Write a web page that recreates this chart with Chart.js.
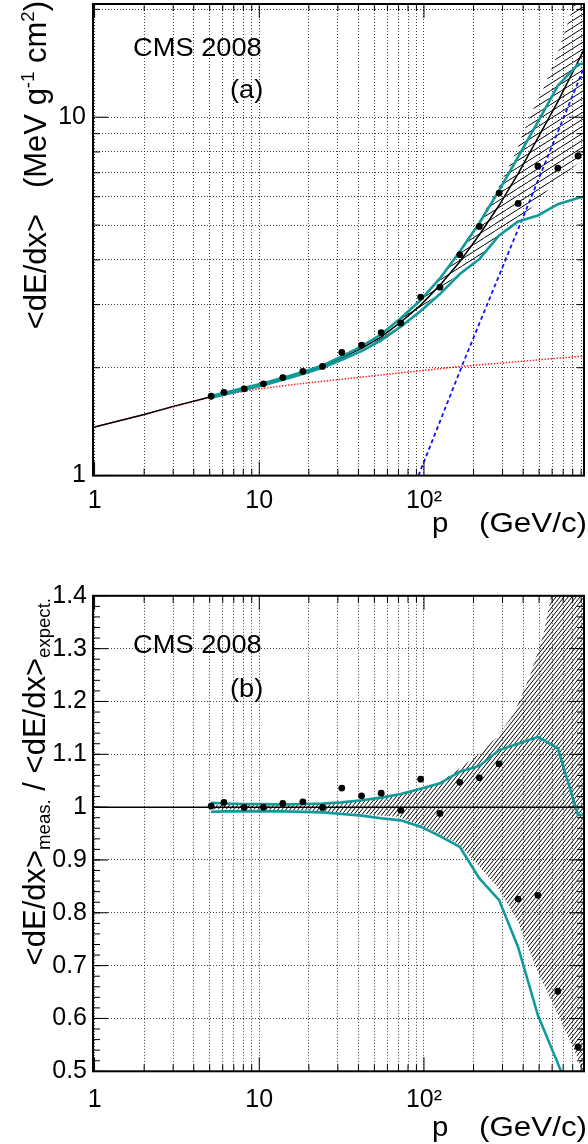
<!DOCTYPE html>
<html>
<head>
<meta charset="utf-8">
<title>CMS 2008 dE/dx</title>
<script src="https://cdn.jsdelivr.net/npm/chart.js@4.4.0/dist/chart.umd.min.js"></script>
<style>
  html, body { margin: 0; padding: 0; background: #fff; }
  #wrap { position: relative; width: 588px; height: 1144px; overflow: hidden; }
  canvas { position: absolute; left: 0; }
  #dedx { top: 0; }
  #ratio { top: 572px; }
</style>
</head>
<body>
<div id="wrap">
  <canvas id="dedx" width="588" height="572"></canvas>
  <canvas id="ratio" width="588" height="572"></canvas>
</div>
<script>
'use strict';

//momentum bin centres (GeV/c)
var BIN_P = [5.1, 6.1, 8.1, 10.6, 13.9, 18.4, 24.2, 31.7, 41.8, 55, 72.3, 95.5, 125, 165, 217, 286, 373, 492, 650, 862];
//measured <dE/dx> (MeV g-1 cm2)
var DEDX_MEAS = [1.665, 1.708, 1.746, 1.803, 1.877, 1.954, 2.017, 2.206, 2.312, 2.506, 2.667, 3.148, 3.356, 4.136, 4.955, 6.143, 5.748, 7.300, 7.207, 7.796];
//measured / expected
var RATIO_MEAS = [1.002, 1.009, 0.9994, 1.0, 1.007, 1.010, 0.9994, 1.036, 1.0214, 1.0265, 0.9943, 1.053, 0.988, 1.047, 1.0555, 1.082, 0.826, 0.833, 0.6515, 0.546];

//expected curve (black)
var EXP_P = [1, 2, 3, 5.1, 6.1, 8.1, 10.6, 13.9, 18.4, 24.2, 31.7, 41.8, 55, 72.3, 95.5, 125, 165, 217, 286, 373, 492, 650, 862, 940];
var EXP_DEDX = [1.367, 1.48, 1.56, 1.66, 1.692, 1.746, 1.80, 1.864, 1.935, 2.016, 2.13, 2.265, 2.44, 2.68, 2.99, 3.40, 3.95, 4.70, 5.68, 6.96, 8.76, 11.06, 14.3, 15.5];

//teal curves (upper / lower)
var TEAL_P = [5.1, 6.1, 8.1, 10.6, 13.9, 18.4, 24.2, 31.7, 41.8, 55, 72.3, 95.5, 125, 165, 217, 286, 373, 492, 650, 862, 940];
var TEAL_HI_DEDX = [1.67, 1.70, 1.757, 1.81, 1.875, 1.947, 2.03, 2.15, 2.295, 2.48, 2.75, 3.09, 3.55, 4.22, 5.07, 6.25, 7.75, 9.7, 12.25, 14.05, 14.1];
var TEAL_LO_DEDX = [1.648, 1.68, 1.735, 1.788, 1.85, 1.92, 2.0, 2.105, 2.225, 2.385, 2.605, 2.88, 3.21, 3.65, 4.02, 4.68, 5.12, 5.32, 5.72, 5.95, 6.0];
var TEAL_HI_RATIO = [1.008, 1.007, 1.006, 1.006, 1.005, 1.006, 1.007, 1.009, 1.013, 1.018, 1.025, 1.035, 1.045, 1.067, 1.078, 1.108, 1.12, 1.133, 1.111, 0.985, 0.985];
var TEAL_LO_RATIO = [0.991, 0.992, 0.992, 0.992, 0.992, 0.991, 0.99, 0.987, 0.984, 0.979, 0.975, 0.963, 0.945, 0.925, 0.865, 0.824, 0.735, 0.606, 0.515, 0.42, 0.41];

//hatched uncertainty band, panel (a)
var BAND_HI_P = [5.1, 10.6, 18.4, 31.7, 55, 95.5, 125, 165, 217, 279, 352, 445, 534, 639, 811, 940];
var BAND_HI_DEDX = [1.667, 1.81, 1.945, 2.15, 2.48, 3.09, 3.57, 4.24, 5.15, 6.3, 7.8, 10.2, 12.1, 14.8, 20.6, 24];
var BAND_LO_P = [5.1, 10.6, 18.4, 31.7, 55, 95.5, 125, 165, 226, 375, 655, 940];
var BAND_LO_DEDX = [1.655, 1.792, 1.925, 2.11, 2.40, 2.90, 3.27, 3.70, 4.14, 5.12, 6.74, 7.66];

//hatched uncertainty band, panel (b)
var RBAND_HI_P = [5.1, 18.4, 27.6, 41.8, 69.7, 100, 122, 145, 211, 279, 352, 445, 534, 587, 650, 940];
var RBAND_HI = [1.004, 1.005, 1.007, 1.012, 1.024, 1.036, 1.045, 1.061, 1.098, 1.133, 1.177, 1.253, 1.329, 1.395, 1.48, 1.9];
var RBAND_LO_P = [5.1, 18.4, 27.6, 69.7, 100, 160, 200, 279, 369, 487, 675, 850, 940];
var RBAND_LO = [0.996, 0.994, 0.991, 0.982, 0.963, 0.931, 0.9, 0.849, 0.786, 0.691, 0.597, 0.528, 0.49];

//ionisation (red dotted) and radiative (blue dashed) terms
var ION_P = [1, 2, 5, 10, 17.4, 30, 50, 100, 168, 300, 500, 940];
var ION_DEDX = [1.367, 1.48, 1.655, 1.746, 1.803, 1.852, 1.90, 1.966, 2.017, 2.063, 2.104, 2.156];
var RAD_P = [92.6, 175, 405, 940];
var RAD_DEDX = [1.0, 2.09, 5.34, 13.8];

//reference line at ratio 1
var UNIT_P = [0.9, 940];
var UNIT_V = [1, 1];

//axes
var X_GRID = [1, 2, 3, 4, 5, 6, 7, 8, 9, 10, 20, 30, 40, 50, 60, 70, 80, 90, 100, 200, 300, 400, 500, 600, 700, 800, 900];
var X_LABEL_AT = [1, 10, 100];
var X_LABELS = ['1', '10', '10\u00b2'];
var Y1_GRID = [1, 2, 3, 4, 5, 6, 7, 8, 9, 10, 20];
var Y1_LABEL_AT = [1, 10];
var Y1_LABELS = ['1', '10'];
var Y2_TICKS = [0.5, 0.6, 0.7, 0.8, 0.9, 1.0, 1.1, 1.2, 1.3, 1.4];
var Y2_LABELS = ['0.5', '0.6', '0.7', '0.8', '0.9', '1', '1.1', '1.2', '1.3', '1.4'];

var FONT = '"Liberation Sans", Arial, Helvetica, sans-serif';
var TEAL = '#109a9a';

Chart.defaults.font.family = FONT;

/*
 * helpers
 */
function pts(px, py) {
    return px.map(function(p, i) { return {x: p, y: py[i]}; });
}

function curve(data, color, width, dash) {
    return {
        data: data, showLine: true, borderColor: color, borderWidth: width,
        borderDash: dash || [], pointRadius: 0, fill: false, tension: 0
    };
}

function hatch(w, h, lw) {
    var c = document.createElement('canvas');
    c.width = w;
    c.height = h;
    var g = c.getContext('2d');
    g.strokeStyle = '#000';
    g.lineWidth = lw;
    g.beginPath();
    for (var k = -1; k <= 1; k++) {
        g.moveTo(k * w, h);
        g.lineTo(k * w + w, 0);
    }
    g.stroke();
    return g.createPattern(c, 'repeat');
}

function txt(ctx, s, x, y, size, align, sx) {
    ctx.save();
    ctx.font = size + 'px ' + FONT;
    ctx.fillStyle = '#000';
    ctx.textBaseline = 'alphabetic';
    ctx.textAlign = align || 'left';
    ctx.translate(x, y);
    ctx.scale(sx || 1, 1);
    ctx.fillText(s, 0, 0);
    ctx.restore();
}

//rotated title, right-aligned at yTop; parts = [text, relative size, shift]
function vtitle(ctx, parts, x, yTop, size) {
    ctx.save();
    ctx.translate(x, yTop);
    ctx.rotate(-Math.PI / 2);
    ctx.fillStyle = '#000';
    ctx.textBaseline = 'alphabetic';
    ctx.textAlign = 'left';
    var total = 0;
    parts.forEach(function(p) {
        ctx.font = (size * p[1]) + 'px ' + FONT;
        total += ctx.measureText(p[0]).width;
    });
    var cx = -total;
    parts.forEach(function(p) {
        ctx.font = (size * p[1]) + 'px ' + FONT;
        ctx.fillText(p[0], cx, p[2]);
        cx += ctx.measureText(p[0]).width;
    });
    ctx.restore();
}

//frame, inward ROOT style ticks and the panel texts
function framePlugin(yMinor, yMajor, drawTexts) {
    return {
        id: 'frame',
        afterDatasetsDraw: function(chart) {
            var ctx = chart.ctx, a = chart.chartArea;
            var xs = chart.scales.x, ys = chart.scales.y;
            ctx.save();
            ctx.strokeStyle = '#000';
            ctx.lineWidth = 1;
            ctx.beginPath();
            X_GRID.forEach(function(v) {
                var px = xs.getPixelForValue(v);
                var len = X_LABEL_AT.indexOf(v) >= 0 ? 14 : 7;
                ctx.moveTo(px, a.bottom); ctx.lineTo(px, a.bottom - len);
                ctx.moveTo(px, a.top); ctx.lineTo(px, a.top + len);
            });
            yMinor.forEach(function(v) {
                var py = ys.getPixelForValue(v);
                ctx.moveTo(a.left, py); ctx.lineTo(a.left + 7, py);
                ctx.moveTo(a.right, py); ctx.lineTo(a.right - 7, py);
            });
            yMajor.forEach(function(v) {
                var py = ys.getPixelForValue(v);
                ctx.moveTo(a.left, py); ctx.lineTo(a.left + 15, py);
                ctx.moveTo(a.right, py); ctx.lineTo(a.right - 15, py);
            });
            ctx.stroke();
            ctx.lineWidth = 2;
            ctx.strokeRect(a.left, a.top, a.right - a.left, a.bottom - a.top);
            ctx.restore();
        },
        afterDraw: function(chart) {
            drawTexts(chart.ctx);
        }
    };
}

function xAxis(height, pad) {
    return {
        type: 'logarithmic', position: 'bottom', min: 0.978, max: 937,
        afterBuildTicks: function(s) { s.ticks = X_GRID.map(function(v) { return {value: v}; }); },
        afterFit: function(s) { s.height = height; s.paddingLeft = 0; s.paddingRight = 0; },
        ticks: {
            autoSkip: false, maxRotation: 0, minRotation: 0, padding: pad, color: '#000',
            font: {family: FONT, size: 25},
            callback: function(v) {
                var i = X_LABEL_AT.indexOf(v);
                return i >= 0 ? X_LABELS[i] : '';
            }
        },
        grid: {color: 'rgba(0,0,0,0.75)', lineWidth: 1, drawTicks: false},
        border: {display: false, dash: [1, 2]}
    };
}

function yAxis(cfg) {
    return Object.assign({
        position: 'left',
        afterFit: function(s) { s.width = 93; s.paddingTop = 0; s.paddingBottom = 0; },
        grid: {color: 'rgba(0,0,0,0.75)', lineWidth: 1, drawTicks: false},
        border: {display: false, dash: [1, 2]}
    }, cfg);
}

function baseOptions(padTop, xHeight, xPad, yCfg) {
    return {
        responsive: false, animation: false, devicePixelRatio: 1, events: [],
        layout: {padding: {left: 0, right: 1, top: padTop, bottom: 0}},
        plugins: {legend: {display: false}, tooltip: {enabled: false}},
        scales: {x: xAxis(xHeight, xPad), y: yAxis(yCfg)}
    };
}

/*
 * panel (a): <dE/dx> vs p
 */
var dedxDatasets = [
    {data: pts(BIN_P, DEDX_MEAS), showLine: false, pointRadius: 3.4, pointBackgroundColor: '#000', pointBorderWidth: 0},
    curve(pts(TEAL_P, TEAL_HI_DEDX), TEAL, 2.6),
    curve(pts(TEAL_P, TEAL_LO_DEDX), TEAL, 2.6),
    curve(pts(EXP_P, EXP_DEDX), '#000', 1.5),
    curve(pts(RAD_P, RAD_DEDX), '#1010ff', 1.8, [4, 3]),
    curve(pts(ION_P, ION_DEDX), '#ff2020', 1.5, [1.5, 1.5]),
    {data: pts(BAND_HI_P, BAND_HI_DEDX), showLine: true, borderColor: 'rgba(0,0,0,0)', borderWidth: 1,
        pointRadius: 0, tension: 0, fill: '+1', backgroundColor: hatch(11, 7, 1)},
    {data: pts(BAND_LO_P, BAND_LO_DEDX), showLine: true, borderColor: 'rgba(0,0,0,0)', borderWidth: 1,
        pointRadius: 0, tension: 0, fill: false}
];

var y1Minor = Y1_GRID.filter(function(v) { return Y1_LABEL_AT.indexOf(v) < 0; });

new Chart(document.getElementById('dedx'), {
    type: 'line',
    data: {datasets: dedxDatasets},
    options: baseOptions(1, 96.4, 11, {
        type: 'logarithmic', min: 1, max: 20.7,
        afterBuildTicks: function(s) { s.ticks = Y1_GRID.map(function(v) { return {value: v}; }); },
        ticks: {
            autoSkip: false, padding: 7, color: '#000', font: {family: FONT, size: 25},
            callback: function(v) {
                var i = Y1_LABEL_AT.indexOf(v);
                return i >= 0 ? Y1_LABELS[i] : '';
            }
        }
    }),
    plugins: [framePlugin(y1Minor, Y1_LABEL_AT, function(ctx) {
        txt(ctx, 'CMS 2008', 133, 56, 25, 'left', 1.09);
        txt(ctx, '(a)', 230, 98, 25, 'left', 1.09);
        txt(ctx, 'p', 432, 532, 28, 'left', 1.05);
        txt(ctx, '(GeV/c)', 587, 532, 28, 'right', 1.12);
        vtitle(ctx, [
            ['<dE/dx>   (MeV g', 1, 0], ['-1', 0.6, -12], [' cm', 1, 0], ['2', 0.6, -12], [')', 1, 0]
        ], 46, 1, 31);
    })]
});

/*
 * panel (b): measured / expected
 */
var ratioDatasets = [
    {data: pts(BIN_P, RATIO_MEAS), showLine: false, pointRadius: 3.4, pointBackgroundColor: '#000', pointBorderWidth: 0},
    curve(pts(TEAL_P, TEAL_HI_RATIO), TEAL, 2.6),
    curve(pts(TEAL_P, TEAL_LO_RATIO), TEAL, 2.6),
    curve(pts(UNIT_P, UNIT_V), '#000', 1.5),
    {data: pts(RBAND_HI_P, RBAND_HI), showLine: true, borderColor: 'rgba(0,0,0,0)', borderWidth: 1,
        pointRadius: 0, tension: 0, fill: '+1', backgroundColor: hatch(4, 5, 1)},
    {data: pts(RBAND_LO_P, RBAND_LO), showLine: true, borderColor: 'rgba(0,0,0,0)', borderWidth: 1,
        pointRadius: 0, tension: 0, fill: false}
];

var y2Minor = [];
for (var v = 0.52; v < 1.4; v += 0.02) {
    y2Minor.push(Math.round(v * 100) / 100);
}

new Chart(document.getElementById('ratio'), {
    type: 'line',
    data: {datasets: ratioDatasets},
    options: baseOptions(23.8, 72.7, 14, {
        type: 'linear', min: 0.5, max: 1.4,
        afterBuildTicks: function(s) { s.ticks = Y2_TICKS.map(function(v) { return {value: v}; }); },
        ticks: {
            autoSkip: false, padding: 6, color: '#000', font: {family: FONT, size: 25},
            callback: function(v, i) { return Y2_LABELS[i]; }
        }
    }),
    plugins: [framePlugin(y2Minor, Y2_TICKS, function(ctx) {
        txt(ctx, 'CMS 2008', 133, 80.7, 25, 'left', 1.09);
        txt(ctx, '(b)', 230, 124.7, 25, 'left', 1.09);
        txt(ctx, 'p', 432, 564, 28, 'left', 1.05);
        txt(ctx, '(GeV/c)', 587, 564, 28, 'right', 1.12);
        vtitle(ctx, [
            ['<dE/dx>', 1, 0], ['meas.', 0.6, 5], [' / ', 1, 0], ['<dE/dx>', 1, 0], ['expect.', 0.6, 5]
        ], 45, 26, 31);
    })]
});
</script>
</body>
</html>
